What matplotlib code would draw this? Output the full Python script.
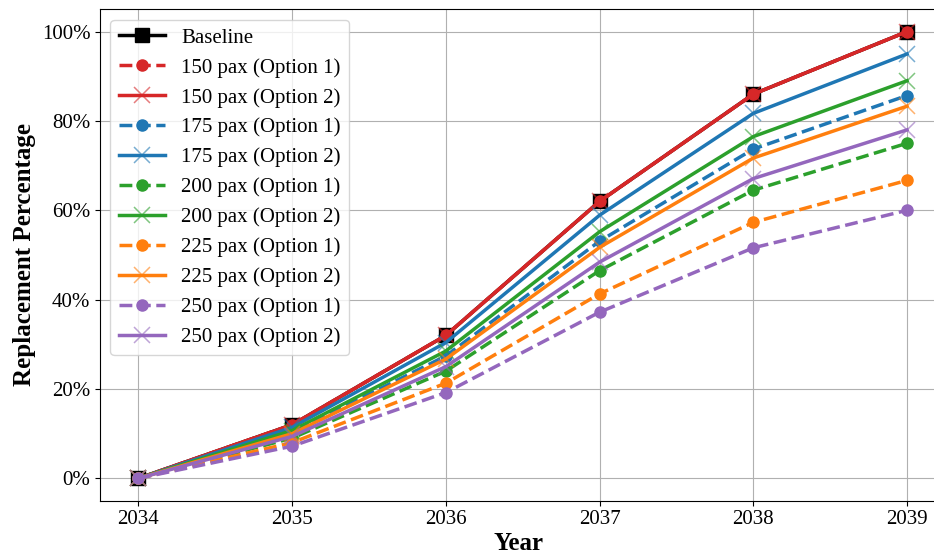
import matplotlib
matplotlib.use("Agg")
import matplotlib.pyplot as plt
from matplotlib.colors import to_rgba
from matplotlib.ticker import PercentFormatter

plt.rcParams['font.family'] = ['Liberation Serif', 'DejaVu Serif']

years = [2034, 2035, 2036, 2037, 2038, 2039]

baseline = [0, 12.0, 32.0, 62.0, 86.0, 100.0]
pax150_opt1 = [0, 12.0, 32.0, 62.0, 86.0, 100.0]
pax150_opt2 = [0, 12.0, 32.0, 62.0, 86.0, 100.0]
pax175_opt1 = [0, 10.3, 27.4, 53.1, 73.7, 85.7]
pax175_opt2 = [0, 11.4, 30.4, 58.9, 81.7, 95.0]
pax200_opt1 = [0, 9.0, 24.0, 46.5, 64.5, 75.0]
pax200_opt2 = [0, 10.7, 28.5, 55.2, 76.5, 89.0]
pax225_opt1 = [0, 8.0, 21.3, 41.3, 57.3, 66.7]
pax225_opt2 = [0, 10.0, 26.7, 51.7, 71.7, 83.3]
pax250_opt1 = [0, 7.2, 19.2, 37.2, 51.6, 60.0]
pax250_opt2 = [0, 9.4, 25.0, 48.4, 67.1, 78.0]

capacities = ["150", "175", "200", "225", "250"]
colors = ["#d62728", "#1f77b4", "#2ca02c", "#ff7f0e", "#9467bd"]
option1 = [pax150_opt1, pax175_opt1, pax200_opt1, pax225_opt1, pax250_opt1]
option2 = [pax150_opt2, pax175_opt2, pax200_opt2, pax225_opt2, pax250_opt2]

fig = plt.figure(figsize=(9.34, 5.56), dpi=100)
ax = fig.add_axes([0.1071, 0.0995, 0.8929 + 0.004, 0.8838])

ax.plot(years, baseline, color="black", marker="s", markersize=10,
        linewidth=2.5, label="Baseline")
for cap, col, o1, o2 in zip(capacities, colors, option1, option2):
    ax.plot(years, o1, color=col, linestyle="--", marker="o", markersize=8,
            linewidth=2.5, label=f"{cap} pax (Option 1)")
    ax.plot(years, o2, color=col, linestyle="-", marker="x", markersize=11,
            markeredgewidth=1.1, markeredgecolor=to_rgba(col, 0.6),
            linewidth=2.5, label=f"{cap} pax (Option 2)")

ax.set_xlim(2033.75, 2039.2)
ax.set_ylim(-5, 105)
ax.set_xticks(years)
ax.yaxis.set_major_formatter(PercentFormatter(decimals=0))
ax.tick_params(labelsize=15)
ax.grid(True, color="#b0b0b0", linewidth=0.8)
ax.set_axisbelow(True)

ax.set_xlabel("Year", fontsize=18, fontweight="bold", labelpad=2)
ax.set_ylabel("Replacement Percentage", fontsize=18, fontweight="bold")

ax.legend(loc="upper left", fontsize=15, labelspacing=0.49,
          borderaxespad=0.5, handlelength=2.2)

fig.savefig("out.png", dpi=100)
